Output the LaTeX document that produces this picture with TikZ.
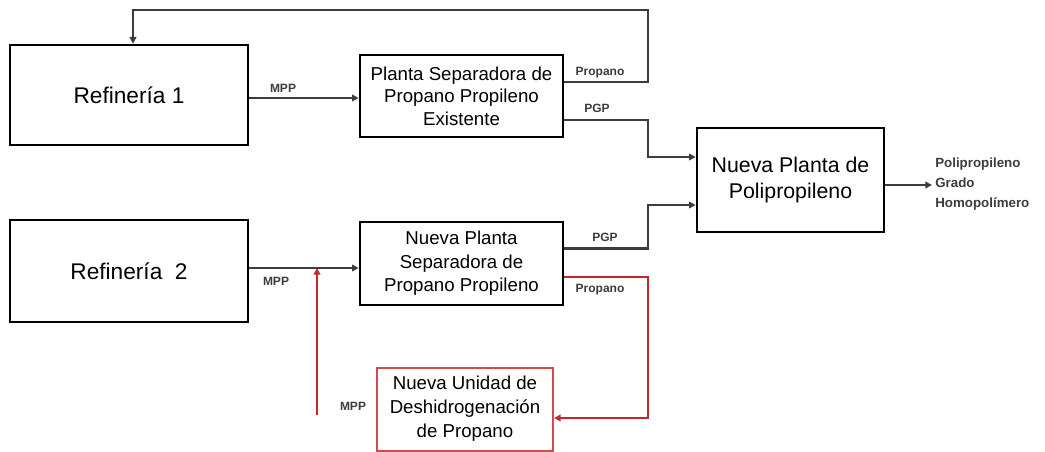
\documentclass[tikz,border=0pt]{standalone}
\usepackage{fontspec}
\setmainfont{Liberation Sans}
\usetikzlibrary{arrows.meta}
\definecolor{lineg}{HTML}{3C3C3C}
\definecolor{redl}{HTML}{C62828}
\definecolor{redbox}{HTML}{D24A4A}
\tikzset{
  blk/.style={draw=black, line width=2pt, fill=white, align=center, inner sep=2pt},
  redblk/.style={draw=redbox, line width=1.5pt, fill=white, align=center, inner sep=2pt},
  flow/.style={draw=lineg, line width=2pt, -{Triangle[length=5pt,width=5pt]}},
  redflow/.style={draw=redl, line width=2pt, -{Triangle[length=5pt,width=5pt]}},
  lbl/.style={font=\bfseries\fontsize{9}{10}\selectfont, text=lineg, inner sep=0pt},
}
\begin{document}
\begin{tikzpicture}[x=0.75pt,y=-0.75pt]
\useasboundingbox (0,0) rectangle (1045,452);
% boxes
\node[blk, minimum width=178.5pt, minimum height=75pt, font=\fontsize{17}{20}\selectfont] (ref1) at (129,95) {Refinería 1};
\node[blk, minimum width=152.25pt, minimum height=61.5pt, font=\fontsize{14}{17}\selectfont] (sep1) at (461.5,96) {Planta Separadora de\\Propano Propileno\\Existente};
\node[blk, minimum width=140.25pt, minimum height=78pt, font=\fontsize{16}{20}\selectfont] (poli) at (790.5,180) {Nueva Planta de\\Polipropileno};
\node[blk, minimum width=178.5pt, minimum height=76.5pt, font=\fontsize{17}{20}\selectfont] (ref2) at (129,271) {Refinería~~2};
\node[blk, minimum width=152.25pt, minimum height=62.25pt, font=\fontsize{14}{17.6}\selectfont] (sep2) at (461.5,263.5) {Nueva Planta\\Separadora de\\Propano Propileno};
\node[redblk, minimum width=132pt, minimum height=62.25pt, font=\fontsize{14}{18}\selectfont] (deh) at (465,409) {Nueva Unidad de\\Deshidrogenación\\de Propano};
% junction coordinates
\coordinate (top1) at (648,10);
\coordinate (pgp1) at (648,120);
\coordinate (pgp2) at (648,248);
\coordinate (red1) at (648,418);
\coordinate (mppin) at (317,415);
\coordinate (mppj) at (317,268);
\coordinate (out) at (932,185);
% row 1
\draw[flow] ([yshift=-2.25pt]ref1.east) -- ([yshift=-2.25pt]ref1.east -| sep1.west);
\draw[flow] ([yshift=10.5pt]sep1.east) -| (top1) -| ([xshift=3pt]ref1.north);
\draw[flow] ([yshift=-18pt]sep1.east) -| (pgp1) |- ([yshift=17.25pt]poli.west);
% row 2
\draw[flow] (ref2.east |- mppj) -- (sep2.west |- mppj);
\draw[flow] ([yshift=11pt]sep2.east) -| (pgp2) |- ([yshift=-18.75pt]poli.west);
\draw[redflow] ([yshift=-10pt]sep2.east) -| (red1) -- (deh.east |- red1);
\draw[redflow] (mppin) -- (mppj);
% output
\draw[flow] (poli.east |- out) -- (out);
% labels
\node[lbl] (l1) at (283,88) {MPP};
\node[lbl] (l2) at (600,73) {Propano};
\node[lbl] (l3) at (597,108) {PGP};
\node[lbl] (l4) at (276,281) {MPP};
\node[lbl] (l5) at (605,237) {PGP};
\node[lbl] (l6) at (600,290) {Propano};
\node[lbl] (l7) at (353,406) {MPP};
\node[lbl, anchor=west, align=left, font=\bfseries\fontsize{10}{15}\selectfont] (l8) at (935,184) {Polipropileno\\Grado\\Homopolímero};
\end{tikzpicture}
\end{document}
